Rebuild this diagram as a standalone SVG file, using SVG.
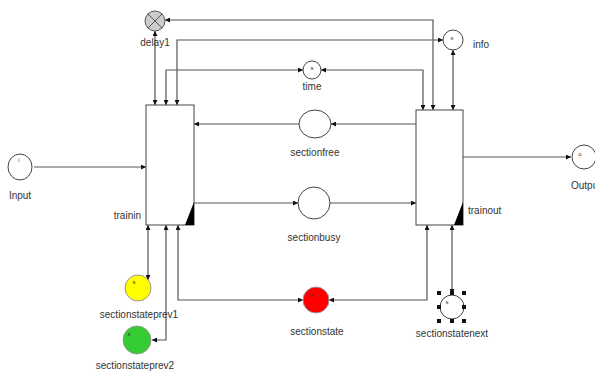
<svg xmlns="http://www.w3.org/2000/svg" width="595" height="374" viewBox="0 0 595 374">
<defs>
<marker id="ah" viewBox="0 0 10 10" refX="10" refY="5" markerWidth="5" markerHeight="5" orient="auto-start-reverse" markerUnits="userSpaceOnUse">
<path d="M0,0 L10,5 L0,10 z" fill="#111"/>
</marker>
</defs>
<style>
.c{fill:none;stroke:#555;stroke-width:1.2}
.b{marker-end:url(#ah)}
.s{marker-start:url(#ah)}
.place{fill:#fff;stroke:#444;stroke-width:1}
.lbl{font-family:"Liberation Sans",Arial,sans-serif;font-size:10px;fill:#333}
.tiny{font-family:"Liberation Sans",Arial,sans-serif;font-size:6px;fill:#333}
.box{fill:#fff;stroke:#444;stroke-width:1}
.h{fill:#111}
</style>
<rect width="595" height="374" fill="#fff"/>
<g id="connectors">
<path class="c s b" d="M155,31 V105"/>
<path class="c s b" d="M433,110 V20 H165"/>
<path class="c s b" d="M177,105 V40 H443"/>
<path class="c s b" d="M166,105 V70 H303"/>
<path class="c s b" d="M423,110 V70 H321"/>
<path class="c s b" d="M453,50 V110"/>
<path class="c b" d="M34,167 H146"/>
<path class="c b" d="M416,124 H331"/>
<path class="c b" d="M299,124 H194"/>
<path class="c b" d="M194,203 H298"/>
<path class="c b" d="M330,203 H416"/>
<path class="c b" d="M463,157 H571"/>
<path class="c s b" d="M148,225 V280"/>
<path class="c s b" d="M166,225 V340 H152"/>
<path class="c s b" d="M178,225 V300 H303"/>
<path class="c s b" d="M427,225 V300 H329"/>
<path class="c s b" d="M452,225 V294"/>
</g>
<g id="delay1">
<circle cx="155" cy="21" r="10" fill="#ccc" stroke="#555"/>
<path d="M148,14 L162,28 M162,14 L148,28" stroke="#555" stroke-width="1"/>
<text class="lbl" x="155" y="46" text-anchor="middle">delay1</text>
</g>
<g id="time">
<circle class="place" cx="312" cy="70" r="9"/>
<text class="tiny" x="312" y="70" text-anchor="middle">s</text>
<text class="lbl" x="312" y="90" text-anchor="middle" font-size="8">time</text>
</g>
<g id="info">
<circle class="place" cx="453" cy="40" r="10"/>
<text class="tiny" x="452" y="40" text-anchor="middle">s</text>
<text class="lbl" x="473" y="48">info</text>
</g>
<g id="Input">
<ellipse class="place" cx="20" cy="167" rx="12" ry="13"/>
<text class="tiny" x="19" y="162" text-anchor="middle">i</text>
<text class="lbl" x="20" y="199" text-anchor="middle">Input</text>
</g>
<g id="trainin">
<rect class="box" x="146" y="105" width="48" height="120"/>
<path d="M194,202 L194,225 L185,225 z" fill="#000"/>
<text class="lbl" x="141" y="219" text-anchor="end">trainin</text>
</g>
<g id="trainout">
<rect class="box" x="416" y="110" width="47" height="115"/>
<path d="M463,202 L463,225 L454,225 z" fill="#000"/>
<text class="lbl" x="468" y="214">trainout</text>
</g>
<g id="sectionfree">
<ellipse class="place" cx="315" cy="124" rx="16" ry="14"/>
<text class="lbl" x="315" y="156" text-anchor="middle">sectionfree</text>
</g>
<g id="sectionbusy">
<ellipse class="place" cx="314" cy="203" rx="16" ry="16"/>
<text class="lbl" x="314" y="241" text-anchor="middle">sectionbusy</text>
</g>
<g id="Output">
<circle class="place" cx="584" cy="157" r="12"/>
<text class="tiny" x="580" y="156" text-anchor="middle">o</text>
<text class="lbl" x="571" y="189">Output</text>
</g>
<g id="sectionstateprev1">
<circle cx="138" cy="288" r="13" fill="#ffff00" stroke="#999"/>
<text class="tiny" x="134" y="284" text-anchor="middle">s</text>
<text class="lbl" x="139" y="318" text-anchor="middle">sectionstateprev1</text>
</g>
<g id="sectionstateprev2">
<circle cx="137" cy="340" r="14" fill="#33cc33" stroke="#999"/>
<text class="tiny" x="129" y="336" text-anchor="middle">s</text>
<text class="lbl" x="135" y="369" text-anchor="middle">sectionstateprev2</text>
</g>
<g id="sectionstate">
<circle cx="316" cy="300" r="13" fill="#ff0000" stroke="#999"/>
<text class="tiny" x="312" y="297" text-anchor="middle">s</text>
<text class="lbl" x="317" y="335" text-anchor="middle">sectionstate</text>
</g>
<g id="sectionstatenext">
<circle class="place" cx="452" cy="307" r="12"/>
<text class="tiny" x="447" y="304" text-anchor="middle">s</text>
<rect class="h" x="437" y="291" width="4" height="4"/>
<rect class="h" x="450" y="291" width="4" height="4"/>
<rect class="h" x="462" y="291" width="4" height="4"/>
<rect class="h" x="437" y="305" width="4" height="4"/>
<rect class="h" x="462" y="305" width="4" height="4"/>
<rect class="h" x="437" y="319" width="4" height="4"/>
<rect class="h" x="450" y="319" width="4" height="4"/>
<rect class="h" x="462" y="319" width="4" height="4"/>
<text class="lbl" x="452" y="337" text-anchor="middle">sectionstatenext</text>
</g>
</svg>
